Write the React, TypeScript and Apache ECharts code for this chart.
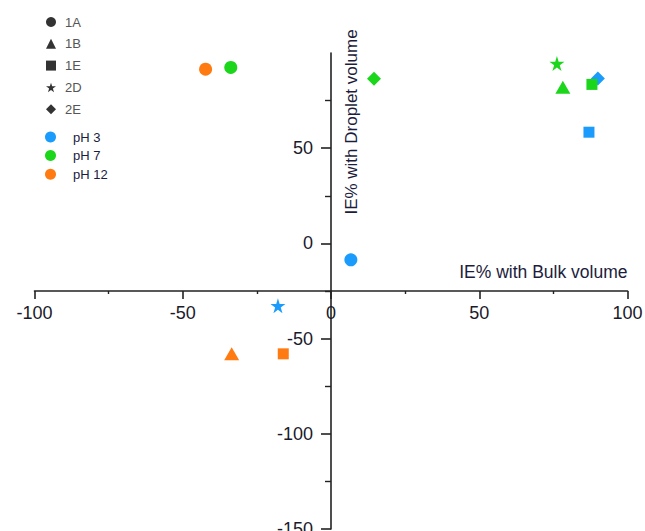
import React, { useEffect, useRef } from "react";
import * as echarts from "echarts";

// ---- data ----
const shapeLegend = ["1A", "1B", "1E", "2D", "2E"];
const phLegend = ["pH 3", "pH 7", "pH 12"];

const ph3Samples = ["1A", "2D", "1E", "2E"];
const ph3Bulk = [6.7, -17.9, 87.0, 90.0];
const ph3Droplet = [-8.6, -32.7, 58.4, 86.6];

const ph7Samples = ["1A", "2E", "2D", "1B", "1E"];
const ph7Bulk = [-33.8, 14.5, 76.2, 78.2, 88.0];
const ph7Droplet = [92.4, 86.5, 94.5, 82.0, 83.5];

const ph12Samples = ["1A", "1B", "1E"];
const ph12Bulk = [-42.3, -33.5, -16.1];
const ph12Droplet = [91.5, -58.0, -58.0];

const yTickValues = [-150, -100, -50, 0, 50];

// ---- styling ----
const STAR =
  "path://M50,0 L61,35 L98,35 L68,57 L79,91 L50,70 L21,91 L32,57 L2,35 L39,35 Z";
const symbolOf: Record<string, string> = {
  "1A": "circle",
  "1B": "triangle",
  "1E": "rect",
  "2D": STAR,
  "2E": "diamond",
};
const sizeOf: Record<string, number | number[]> = {
  "1A": 13,
  "1B": [15, 13],
  "1E": 11,
  "2D": 15,
  "2E": 14,
};
const colors: Record<string, string> = {
  "pH 3": "#1b9cfc",
  "pH 7": "#1cd61c",
  "pH 12": "#ff7b12",
};
const FONT = "Liberation Sans, Arial, sans-serif";

function buildData(samples: string[], xs: number[], ys: number[]) {
  return samples.map((s, i) => ({
    name: s,
    value: [xs[i], ys[i]],
    symbol: symbolOf[s],
    symbolSize: sizeOf[s],
  }));
}

export default function App() {
  const ref = useRef<HTMLDivElement>(null);
  useEffect(() => {
    if (!ref.current) return;
    const chart = echarts.init(ref.current, null, { renderer: "svg" });

    const groups = [
      { name: "pH 3", data: buildData(ph3Samples, ph3Bulk, ph3Droplet) },
      { name: "pH 7", data: buildData(ph7Samples, ph7Bulk, ph7Droplet) },
      { name: "pH 12", data: buildData(ph12Samples, ph12Bulk, ph12Droplet) },
    ];

    const dummy = shapeLegend.map((s) => ({
      name: s,
      type: "scatter",
      data: [],
      symbol: symbolOf[s],
      itemStyle: { color: "#000" },
    }));

    chart.setOption({
      animation: false,
      backgroundColor: "#fff",
      grid: {
        left: 34.5,
        right: 17.5,
        top: 53,
        bottom: 2,
        containLabel: false,
        outerBoundsMode: "none",
      },
      legend: [
        {
          orient: "vertical",
          left: 41,
          top: 10,
          itemWidth: 10,
          itemHeight: 10,
          itemGap: 7.8,
          selectedMode: false,
          textStyle: {
            fontFamily: FONT,
            fontSize: 13,
            color: "#555",
            lineHeight: 14,
            padding: [0, 0, 0, 4],
          },
          data: shapeLegend.map((s) => ({
            name: s,
            icon: symbolOf[s],
            itemStyle: { color: "#000" },
          })),
        },
        {
          orient: "vertical",
          left: 40,
          top: 125,
          itemWidth: 11,
          itemHeight: 11,
          itemGap: 4.6,
          selectedMode: false,
          textStyle: {
            fontFamily: FONT,
            fontSize: 13,
            color: "#1c1c3c",
            lineHeight: 14,
            padding: [0, 0, 0, 12],
          },
          data: phLegend.map((p) => ({
            name: p,
            icon: "circle",
            itemStyle: { color: colors[p] },
          })),
        },
      ],
      xAxis: {
        type: "value",
        min: -100,
        max: 100,
        interval: 50,
        position: "bottom",
        offset: -238,
        name: "IE% with Bulk volume",
        nameLocation: "end",
        nameGap: 0,
        nameTextStyle: {
          fontFamily: FONT,
          fontSize: 17.5,
          color: "#1c1c3c",
          align: "right",
          verticalAlign: "bottom",
          padding: [0, 0, 10, 0],
        },
        axisLine: { onZero: false, lineStyle: { color: "#222", width: 1.6 } },
        axisTick: { show: true, length: 8, lineStyle: { color: "#222", width: 1.6 } },
        minorTick: { show: true, splitNumber: 2, length: 3, lineStyle: { color: "#222", width: 1.4 } },
        splitLine: { show: false },
        axisLabel: {
          fontFamily: FONT,
          fontSize: 18,
          color: "#1a1a2a",
          margin: 13,
        },
      },
      yAxis: {
        type: "value",
        min: -150,
        max: 100,
        interval: 50,
        position: "left",
        offset: -296.5,
        axisLine: { onZero: false, lineStyle: { color: "#222", width: 1.6 } },
        axisTick: {
          show: true,
          length: 10,
          customValues: yTickValues,
          lineStyle: { color: "#222", width: 1.6 },
        },
        minorTick: { show: true, splitNumber: 2, length: 6, lineStyle: { color: "#222", width: 1.4 } },
        splitLine: { show: false },
        axisLabel: {
          fontFamily: FONT,
          fontSize: 18,
          color: "#1a1a2a",
          margin: 18,
          customValues: yTickValues,
        },
      },
      graphic: [
        {
          type: "text",
          x: 351,
          y: 122,
          rotation: Math.PI / 2,
          style: {
            text: "IE% with Droplet volume",
            font: "17px " + FONT,
            fill: "#1c1c3c",
            align: "center",
            verticalAlign: "middle",
          },
        },
      ],
      series: [
        ...dummy,
        ...groups.map((g) => ({
          name: g.name,
          type: "scatter",
          data: g.data,
          itemStyle: { color: colors[g.name], opacity: 1 },
          emphasis: { disabled: true },
        })),
      ],
    });
    return () => chart.dispose();
  }, []);
  return (
    <div
      ref={ref}
      style={{ position: "fixed", left: 0, top: 0, width: 645, height: 531 }}
    />
  );
}
